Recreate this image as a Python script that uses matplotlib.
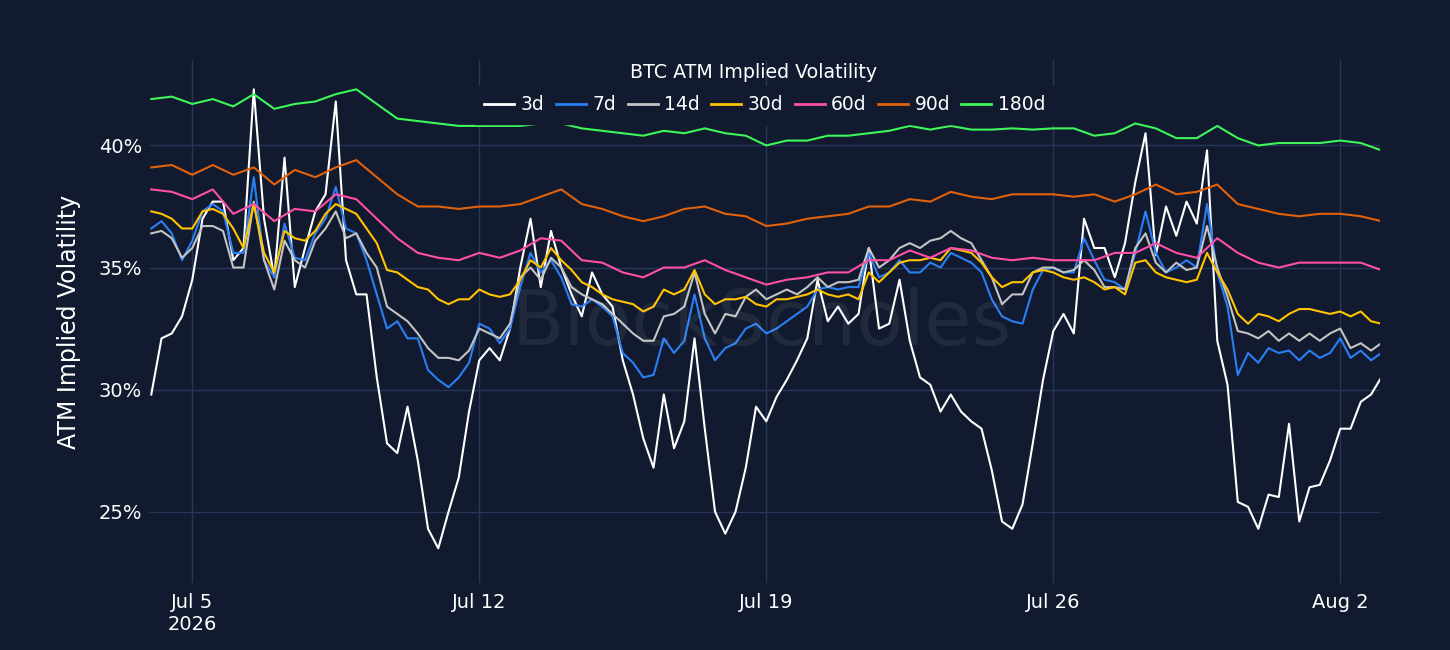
import numpy as np
import pandas as pd
import matplotlib
matplotlib.use("Agg")
import matplotlib.pyplot as plt
from matplotlib.ticker import FuncFormatter

# ---------------- data ----------------
start_time = "2026-07-04 00:00"
fine_step = "6h"     # 3d, 7d, 14d, 30d
coarse_step = "12h"  # 60d, 90d, 180d

iv_3d = [
    29.8, 32.1, 32.3, 33.0, 34.5, 37.0, 37.7, 37.7, 35.3, 35.8, 42.3, 37.0, 34.6, 39.5, 34.2, 35.8,
    37.3, 38.0, 41.8, 35.3, 33.9, 33.9, 30.5, 27.8, 27.4, 29.3, 27.1, 24.3, 23.5, 25.0, 26.4, 29.1, 31.2,
    31.7, 31.2, 32.5, 35.0, 37.0, 34.2, 36.5, 35.0, 33.9, 33.0, 34.8, 33.9, 33.4, 31.2, 29.8, 28.0,
    26.8, 29.8, 27.6, 28.7, 32.1, 28.4, 25.0, 24.1, 25.0, 26.8, 29.3, 28.7, 29.7,
    30.4, 31.2, 32.1, 34.5, 32.8, 33.4, 32.7, 33.1, 35.8, 32.5, 32.7, 34.5, 32.0, 30.5, 30.2, 29.1,
    29.8, 29.1, 28.7, 28.4, 26.7, 24.6, 24.3, 25.3, 27.8, 30.4, 32.4, 33.1,
    32.3, 37.0, 35.8, 35.8, 34.6, 36.0, 38.5, 40.5, 35.5, 37.5, 36.3, 37.7, 36.8, 39.8, 32.0, 30.2,
    25.4, 25.2, 24.3, 25.7, 25.6, 28.6, 24.6, 26.0, 26.1, 27.1, 28.4, 28.4, 29.5, 29.8, 30.5,
]
iv_7d = [
    36.6, 36.9, 36.4, 35.3, 36.1, 37.3, 37.6, 37.3, 35.6, 35.6, 38.7, 35.3, 34.6, 36.8, 35.4, 35.3,
    36.4, 37.0, 38.3, 36.6, 36.4, 35.3, 33.9, 32.5, 32.8, 32.1, 32.1, 30.8, 30.4, 30.1, 30.5, 31.1, 32.7,
    32.5, 31.9, 32.5, 34.2, 35.6, 34.8, 35.3, 34.6, 33.5, 33.4, 33.7, 33.4, 33.0, 31.5, 31.1, 30.5,
    30.6, 32.1, 31.5, 32.0, 33.9, 32.1, 31.2, 31.7, 31.9, 32.5, 32.7, 32.3, 32.5,
    32.8, 33.1, 33.4, 34.1, 34.2, 34.1, 34.2, 34.2, 35.6, 34.6, 34.8, 35.3, 34.8, 34.8, 35.2, 35.0,
    35.6, 35.4, 35.2, 34.8, 33.7, 33.0, 32.8, 32.7, 34.1, 34.9, 35.0, 34.8,
    34.8, 36.2, 35.3, 34.5, 34.4, 34.1, 35.6, 37.3, 35.6, 34.8, 35.0, 35.3, 35.0, 37.6, 34.8, 33.4,
    30.6, 31.5, 31.1, 31.7, 31.5, 31.6, 31.2, 31.6, 31.3, 31.5, 32.1, 31.3, 31.6, 31.2, 31.5,
]
iv_14d = [
    36.4, 36.5, 36.2, 35.4, 35.8, 36.7, 36.7, 36.5, 35.0, 35.0, 37.7, 35.3, 34.1, 36.1, 35.3, 35.0,
    36.1, 36.6, 37.3, 36.2, 36.4, 35.6, 35.0, 33.4, 33.1, 32.8, 32.3, 31.7, 31.3, 31.3, 31.2, 31.6, 32.5,
    32.3, 32.1, 32.7, 34.6, 35.0, 34.5, 35.4, 35.0, 34.2, 33.9, 33.7, 33.5, 33.1, 32.7, 32.3, 32.0,
    32.0, 33.0, 33.1, 33.4, 34.8, 33.1, 32.3, 33.1, 33.0, 33.8, 34.1, 33.7, 33.9,
    34.1, 33.9, 34.2, 34.6, 34.2, 34.4, 34.4, 34.5, 35.8, 35.0, 35.3, 35.8, 36.0, 35.8, 36.1, 36.2,
    36.5, 36.2, 36.0, 35.3, 34.6, 33.5, 33.9, 33.9, 34.8, 35.0, 35.0, 34.8,
    34.9, 35.3, 34.9, 34.2, 34.2, 34.1, 35.8, 36.4, 35.2, 34.8, 35.2, 34.9, 35.0, 36.7, 35.0, 33.8,
    32.4, 32.3, 32.1, 32.4, 32.0, 32.3, 32.0, 32.3, 32.0, 32.3, 32.5, 31.7, 31.9, 31.6, 31.9,
]
iv_30d = [
    37.3, 37.2, 37.0, 36.6, 36.6, 37.3, 37.4, 37.2, 36.6, 35.8, 37.6, 35.6, 34.8, 36.5, 36.2, 36.1,
    36.5, 37.2, 37.6, 37.4, 37.2, 36.6, 36.0, 34.9, 34.8, 34.5, 34.2, 34.1, 33.7, 33.5, 33.7, 33.7, 34.1,
    33.9, 33.8, 33.9, 34.5, 35.3, 35.0, 35.8, 35.3, 34.9, 34.4, 34.2, 33.9, 33.7, 33.6, 33.5, 33.2,
    33.4, 34.1, 33.9, 34.1, 34.9, 33.9, 33.5, 33.7, 33.7, 33.8, 33.5, 33.4, 33.7,
    33.7, 33.8, 33.9, 34.1, 33.9, 33.8, 33.9, 33.7, 34.8, 34.4, 34.8, 35.2, 35.3, 35.3, 35.4, 35.3,
    35.8, 35.7, 35.6, 35.2, 34.6, 34.2, 34.4, 34.4, 34.8, 34.9, 34.8, 34.6,
    34.5, 34.6, 34.4, 34.1, 34.2, 33.9, 35.2, 35.3, 34.8, 34.6, 34.5, 34.4, 34.5, 35.6, 34.8, 34.1,
    33.1, 32.7, 33.1, 33.0, 32.8, 33.1, 33.3, 33.3, 33.2, 33.1, 33.2, 33.0, 33.2, 32.8, 32.7,
]
iv_60d = [
    38.2, 38.1, 37.8, 38.2, 37.2, 37.6, 36.9, 37.4, 37.3, 38.0, 37.8, 37.0, 36.2, 35.6, 35.4, 35.3, 35.6,
    35.4, 35.7, 36.2, 36.1, 35.3, 35.2, 34.8, 34.6, 35.0, 35.0, 35.3, 34.9, 34.6, 34.3,
    34.5, 34.6, 34.8, 34.8, 35.3, 35.3, 35.7, 35.4, 35.8, 35.7, 35.4, 35.3, 35.4, 35.3,
    35.3, 35.3, 35.6, 35.6, 36.0, 35.6, 35.4, 36.2, 35.6, 35.2, 35.0, 35.2, 35.2, 35.2, 35.2, 34.9,
]
iv_90d = [
    39.1, 39.2, 38.8, 39.2, 38.8, 39.1, 38.4, 39.0, 38.7, 39.1, 39.4, 38.7, 38.0, 37.5, 37.5, 37.4, 37.5,
    37.5, 37.6, 37.9, 38.2, 37.6, 37.4, 37.1, 36.9, 37.1, 37.4, 37.5, 37.2, 37.1, 36.7,
    36.8, 37.0, 37.1, 37.2, 37.5, 37.5, 37.8, 37.7, 38.1, 37.9, 37.8, 38.0, 38.0, 38.0,
    37.9, 38.0, 37.7, 38.0, 38.4, 38.0, 38.1, 38.4, 37.6, 37.4, 37.2, 37.1, 37.2, 37.2, 37.1, 36.9,
]
iv_180d = [
    41.9, 42.0, 41.7, 41.9, 41.6, 42.1, 41.5, 41.7, 41.8, 42.1, 42.3, 41.7, 41.1, 41.0, 40.9, 40.8, 40.8,
    40.8, 40.8, 40.9, 40.9, 40.7, 40.6, 40.5, 40.4, 40.6, 40.5, 40.7, 40.5, 40.4, 40.0,
    40.2, 40.2, 40.4, 40.4, 40.5, 40.6, 40.8, 40.65, 40.8, 40.65, 40.65, 40.7, 40.65, 40.7,
    40.7, 40.4, 40.5, 40.9, 40.7, 40.3, 40.3, 40.8, 40.3, 40.0, 40.1, 40.1, 40.1, 40.2, 40.1, 39.8,
]

series_labels = ["3d", "7d", "14d", "30d", "60d", "90d", "180d"]
series_values = [iv_3d, iv_7d, iv_14d, iv_30d, iv_60d, iv_90d, iv_180d]
series_steps = [fine_step, fine_step, fine_step, fine_step, coarse_step, coarse_step, coarse_step]
series_colors = ["#ffffff", "#2a7ff5", "#c4c4c4", "#ffc300", "#ff4fa7", "#e2620c", "#3ef55a"]

y_ticks = [25, 30, 35, 40]
x_tick_dates = ["2026-07-05", "2026-07-12", "2026-07-19", "2026-07-26", "2026-08-02"]
x_tick_labels = ["Jul 5\n2026", "Jul 12", "Jul 19", "Jul 26", "Aug 2"]

title_text = "BTC ATM Implied Volatility"
y_label = "ATM Implied Volatility"
watermark = "BlockScholes"

# ---------------- style ----------------
BG = "#111a2e"
GRID = "#27375a"
W, H = 1450, 650
plt.rcParams["font.family"] = ["DejaVu Sans"]

fig = plt.figure(figsize=(W / 100, H / 100), dpi=100, facecolor=BG)
left, right, top, bottom = 149, 1380, 60, 583
ax = fig.add_axes([left / W, (H - bottom) / H, (right - left) / W, (bottom - top) / H])
ax.set_facecolor(BG)

for lab, vals, step, col in zip(series_labels, series_values, series_steps, series_colors):
    t = pd.date_range(start_time, periods=len(vals), freq=step)
    ax.plot(t, vals, color=col, lw=1.5, label=lab, solid_joinstyle="round")

ax.set_xlim(pd.Timestamp("2026-07-03 22:40"), pd.Timestamp("2026-08-02 23:15"))
ax.set_ylim(22.08, 43.5)
ax.set_yticks(y_ticks)
ax.yaxis.set_major_formatter(FuncFormatter(lambda v, p: f"{v:.0f}%"))
ax.set_xticks(pd.to_datetime(x_tick_dates))
ax.set_xticklabels(x_tick_labels)
ax.tick_params(axis="both", length=0, colors="white", labelsize=14)
ax.tick_params(axis="y", pad=5)
ax.tick_params(axis="x", pad=7)
ax.grid(True, color=GRID, lw=1)
ax.set_axisbelow(True)
for s in ax.spines.values():
    s.set_visible(False)

ax.set_ylabel(y_label, color="white", fontsize=17)
ax.yaxis.set_label_coords((81 - left) / (right - left), 0.5)

leg = ax.legend(loc="center", bbox_to_anchor=(765 / W, 1 - 105 / H), bbox_transform=fig.transFigure,
                ncol=7, frameon=True, facecolor=BG, edgecolor=BG, framealpha=1, fontsize=13.5,
                handlelength=1.6, handletextpad=0.35, columnspacing=0.6, borderpad=0.5,
                labelcolor="white", fancybox=False)
for line in leg.get_lines():
    line.set_linewidth(2.0)

fig.text(754 / W, 1 - 72 / H, title_text, color="white", fontsize=13.7, ha="center", va="center")
fig.text(762 / W, 1 - 324 / H, watermark, color="white", alpha=0.07, fontsize=55,
         ha="center", va="center", zorder=10)

fig.savefig("out.png", dpi=100, facecolor=BG)
